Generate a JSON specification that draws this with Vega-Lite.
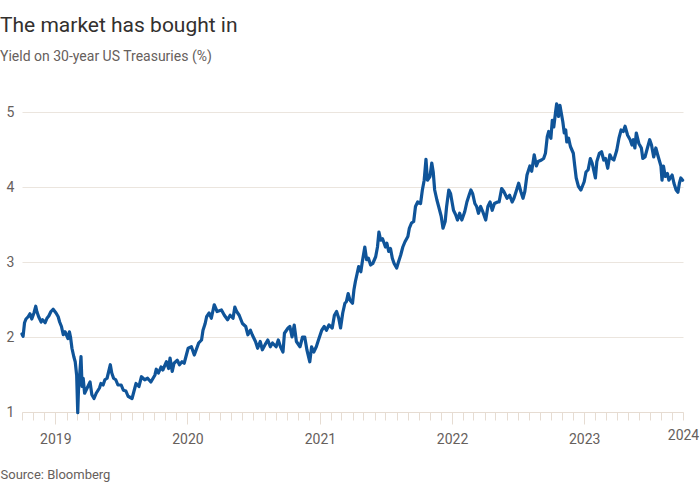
{
  "$schema": "https://vega.github.io/schema/vega-lite/v6.json",
  "width": 661,
  "height": 330,
  "autosize": {"type": "none"},
  "padding": {"left": 22, "top": 82, "right": 17, "bottom": 88},
  "background": "#ffffff",
  "config": {
    "font": "Roboto",
    "view": {"stroke": null}
  },
  "title": {
    "text": "The market has bought in",
    "subtitle": "Yield on 30-year US Treasuries (%)",
    "anchor": "start",
    "frame": "group",
    "dx": -22,
    "offset": 18,
    "font": "Roboto",
    "fontSize": 21,
    "fontWeight": "normal",
    "color": "#33302e",
    "subtitleFont": "Roboto",
    "subtitleFontSize": 14,
    "subtitleColor": "#66605c",
    "subtitlePadding": 14
  },
  "data": {
    "values": [
      {"date": "2018-10-01", "y": 2.04}, {"date": "2018-10-04", "y": 2.01}, {"date": "2018-10-08", "y": 2.19},
      {"date": "2018-10-12", "y": 2.24}, {"date": "2018-10-18", "y": 2.27}, {"date": "2018-10-23", "y": 2.31},
      {"date": "2018-10-28", "y": 2.24}, {"date": "2018-11-03", "y": 2.32}, {"date": "2018-11-08", "y": 2.41},
      {"date": "2018-11-11", "y": 2.34}, {"date": "2018-11-16", "y": 2.27}, {"date": "2018-11-23", "y": 2.20},
      {"date": "2018-11-27", "y": 2.23}, {"date": "2018-12-04", "y": 2.19}, {"date": "2018-12-09", "y": 2.25},
      {"date": "2018-12-14", "y": 2.28}, {"date": "2018-12-20", "y": 2.34}, {"date": "2018-12-26", "y": 2.37},
      {"date": "2019-01-03", "y": 2.32}, {"date": "2019-01-09", "y": 2.27}, {"date": "2019-01-13", "y": 2.20},
      {"date": "2019-01-18", "y": 2.14}, {"date": "2019-01-23", "y": 2.03}, {"date": "2019-01-28", "y": 2.07},
      {"date": "2019-02-05", "y": 1.98}, {"date": "2019-02-09", "y": 2.07}, {"date": "2019-02-12", "y": 2.00},
      {"date": "2019-02-16", "y": 1.85}, {"date": "2019-02-21", "y": 1.74}, {"date": "2019-02-25", "y": 1.67},
      {"date": "2019-03-01", "y": 1.49}, {"date": "2019-03-04", "y": 0.99}, {"date": "2019-03-06", "y": 1.29},
      {"date": "2019-03-10", "y": 1.54}, {"date": "2019-03-13", "y": 1.74}, {"date": "2019-03-16", "y": 1.34},
      {"date": "2019-03-19", "y": 1.45}, {"date": "2019-03-23", "y": 1.25}, {"date": "2019-04-01", "y": 1.34},
      {"date": "2019-04-07", "y": 1.40}, {"date": "2019-04-12", "y": 1.23}, {"date": "2019-04-18", "y": 1.18},
      {"date": "2019-04-24", "y": 1.25}, {"date": "2019-05-03", "y": 1.32}, {"date": "2019-05-07", "y": 1.38},
      {"date": "2019-05-13", "y": 1.36}, {"date": "2019-05-18", "y": 1.43}, {"date": "2019-05-24", "y": 1.45},
      {"date": "2019-06-02", "y": 1.63}, {"date": "2019-06-06", "y": 1.52}, {"date": "2019-06-11", "y": 1.45},
      {"date": "2019-06-17", "y": 1.43}, {"date": "2019-06-23", "y": 1.36}, {"date": "2019-07-02", "y": 1.36},
      {"date": "2019-07-08", "y": 1.29}, {"date": "2019-07-15", "y": 1.28}, {"date": "2019-07-21", "y": 1.21},
      {"date": "2019-08-01", "y": 1.18}, {"date": "2019-08-12", "y": 1.38}, {"date": "2019-08-20", "y": 1.34},
      {"date": "2019-08-27", "y": 1.47}, {"date": "2019-09-05", "y": 1.43}, {"date": "2019-09-13", "y": 1.45},
      {"date": "2019-09-22", "y": 1.40}, {"date": "2019-10-03", "y": 1.49}, {"date": "2019-10-07", "y": 1.57},
      {"date": "2019-10-13", "y": 1.52}, {"date": "2019-10-20", "y": 1.60}, {"date": "2019-10-25", "y": 1.56},
      {"date": "2019-11-04", "y": 1.67}, {"date": "2019-11-10", "y": 1.58}, {"date": "2019-11-14", "y": 1.72},
      {"date": "2019-11-20", "y": 1.54}, {"date": "2019-11-25", "y": 1.65}, {"date": "2019-12-04", "y": 1.69},
      {"date": "2019-12-10", "y": 1.63}, {"date": "2019-12-17", "y": 1.67}, {"date": "2019-12-23", "y": 1.65},
      {"date": "2020-01-03", "y": 1.85}, {"date": "2020-01-12", "y": 1.87}, {"date": "2020-01-20", "y": 1.76},
      {"date": "2020-02-01", "y": 1.92}, {"date": "2020-02-09", "y": 1.96}, {"date": "2020-02-13", "y": 2.09},
      {"date": "2020-02-19", "y": 2.18}, {"date": "2020-02-23", "y": 2.27}, {"date": "2020-03-01", "y": 2.32},
      {"date": "2020-03-07", "y": 2.25}, {"date": "2020-03-15", "y": 2.43}, {"date": "2020-03-23", "y": 2.34},
      {"date": "2020-04-04", "y": 2.36}, {"date": "2020-04-12", "y": 2.29}, {"date": "2020-04-21", "y": 2.23},
      {"date": "2020-04-28", "y": 2.29}, {"date": "2020-05-06", "y": 2.25}, {"date": "2020-05-11", "y": 2.40},
      {"date": "2020-05-16", "y": 2.34}, {"date": "2020-05-23", "y": 2.29}, {"date": "2020-06-01", "y": 2.18},
      {"date": "2020-06-10", "y": 2.14}, {"date": "2020-06-16", "y": 2.03}, {"date": "2020-06-23", "y": 2.09},
      {"date": "2020-06-28", "y": 2.03}, {"date": "2020-07-07", "y": 1.94}, {"date": "2020-07-13", "y": 1.85},
      {"date": "2020-07-20", "y": 1.94}, {"date": "2020-07-26", "y": 1.83}, {"date": "2020-08-05", "y": 1.92},
      {"date": "2020-08-10", "y": 1.96}, {"date": "2020-08-17", "y": 1.87}, {"date": "2020-08-23", "y": 1.92},
      {"date": "2020-09-02", "y": 1.87}, {"date": "2020-09-08", "y": 1.96}, {"date": "2020-09-14", "y": 1.87},
      {"date": "2020-09-21", "y": 1.80}, {"date": "2020-09-25", "y": 2.05}, {"date": "2020-10-05", "y": 2.12},
      {"date": "2020-10-10", "y": 2.14}, {"date": "2020-10-16", "y": 2.00}, {"date": "2020-10-22", "y": 2.16},
      {"date": "2020-10-28", "y": 1.94}, {"date": "2020-11-07", "y": 1.87}, {"date": "2020-11-14", "y": 2.00},
      {"date": "2020-11-20", "y": 2.00}, {"date": "2020-11-26", "y": 1.83}, {"date": "2020-12-04", "y": 1.67},
      {"date": "2020-12-09", "y": 1.87}, {"date": "2020-12-15", "y": 1.80}, {"date": "2020-12-22", "y": 1.87},
      {"date": "2020-12-28", "y": 1.96}, {"date": "2021-01-06", "y": 2.09}, {"date": "2021-01-13", "y": 2.14},
      {"date": "2021-01-19", "y": 2.09}, {"date": "2021-01-26", "y": 2.16}, {"date": "2021-02-04", "y": 2.12},
      {"date": "2021-02-10", "y": 2.29}, {"date": "2021-02-16", "y": 2.34}, {"date": "2021-02-22", "y": 2.25},
      {"date": "2021-02-27", "y": 2.12}, {"date": "2021-03-05", "y": 2.32}, {"date": "2021-03-11", "y": 2.45},
      {"date": "2021-03-15", "y": 2.47}, {"date": "2021-03-20", "y": 2.58}, {"date": "2021-03-25", "y": 2.49},
      {"date": "2021-04-01", "y": 2.45}, {"date": "2021-04-05", "y": 2.63}, {"date": "2021-04-09", "y": 2.74},
      {"date": "2021-04-14", "y": 2.85}, {"date": "2021-04-18", "y": 2.94}, {"date": "2021-04-24", "y": 2.87},
      {"date": "2021-04-28", "y": 3.00}, {"date": "2021-05-05", "y": 3.20}, {"date": "2021-05-10", "y": 3.03},
      {"date": "2021-05-15", "y": 3.05}, {"date": "2021-05-21", "y": 2.96}, {"date": "2021-05-27", "y": 2.98},
      {"date": "2021-06-04", "y": 3.07}, {"date": "2021-06-09", "y": 3.20}, {"date": "2021-06-13", "y": 3.40},
      {"date": "2021-06-18", "y": 3.29}, {"date": "2021-06-23", "y": 3.31}, {"date": "2021-07-01", "y": 3.20},
      {"date": "2021-07-05", "y": 3.25}, {"date": "2021-07-10", "y": 3.14}, {"date": "2021-07-15", "y": 3.18},
      {"date": "2021-07-20", "y": 3.05}, {"date": "2021-07-25", "y": 2.98}, {"date": "2021-08-01", "y": 2.92},
      {"date": "2021-08-06", "y": 3.00}, {"date": "2021-08-12", "y": 3.09}, {"date": "2021-08-18", "y": 3.20},
      {"date": "2021-08-24", "y": 3.27}, {"date": "2021-09-01", "y": 3.34}, {"date": "2021-09-05", "y": 3.45},
      {"date": "2021-09-11", "y": 3.52}, {"date": "2021-09-17", "y": 3.54}, {"date": "2021-09-22", "y": 3.74},
      {"date": "2021-09-28", "y": 3.80}, {"date": "2021-10-06", "y": 3.78}, {"date": "2021-10-11", "y": 3.96},
      {"date": "2021-10-16", "y": 4.09}, {"date": "2021-10-21", "y": 4.37}, {"date": "2021-10-25", "y": 4.09},
      {"date": "2021-11-01", "y": 4.14}, {"date": "2021-11-06", "y": 4.32}, {"date": "2021-11-10", "y": 4.20},
      {"date": "2021-11-14", "y": 3.96}, {"date": "2021-11-20", "y": 3.83}, {"date": "2021-11-25", "y": 3.74},
      {"date": "2021-12-02", "y": 3.61}, {"date": "2021-12-07", "y": 3.45}, {"date": "2021-12-13", "y": 3.54},
      {"date": "2021-12-17", "y": 3.74}, {"date": "2021-12-23", "y": 3.96}, {"date": "2021-12-28", "y": 3.91},
      {"date": "2022-01-05", "y": 3.69}, {"date": "2022-01-11", "y": 3.63}, {"date": "2022-01-16", "y": 3.56},
      {"date": "2022-01-22", "y": 3.65}, {"date": "2022-01-28", "y": 3.56}, {"date": "2022-02-05", "y": 3.67},
      {"date": "2022-02-11", "y": 3.80}, {"date": "2022-02-17", "y": 3.89}, {"date": "2022-02-22", "y": 3.96},
      {"date": "2022-02-27", "y": 3.91}, {"date": "2022-03-05", "y": 3.78}, {"date": "2022-03-10", "y": 3.74},
      {"date": "2022-03-15", "y": 3.65}, {"date": "2022-03-21", "y": 3.74}, {"date": "2022-03-27", "y": 3.67},
      {"date": "2022-04-04", "y": 3.56}, {"date": "2022-04-10", "y": 3.74}, {"date": "2022-04-16", "y": 3.80},
      {"date": "2022-04-22", "y": 3.69}, {"date": "2022-04-28", "y": 3.78}, {"date": "2022-05-07", "y": 3.80},
      {"date": "2022-05-11", "y": 3.80}, {"date": "2022-05-18", "y": 3.98}, {"date": "2022-05-24", "y": 3.94},
      {"date": "2022-06-02", "y": 3.85}, {"date": "2022-06-09", "y": 3.89}, {"date": "2022-06-16", "y": 3.80},
      {"date": "2022-06-21", "y": 3.85}, {"date": "2022-06-27", "y": 3.94}, {"date": "2022-07-04", "y": 4.05},
      {"date": "2022-07-10", "y": 3.94}, {"date": "2022-07-16", "y": 3.85}, {"date": "2022-07-21", "y": 3.94},
      {"date": "2022-07-27", "y": 4.16}, {"date": "2022-08-04", "y": 4.28}, {"date": "2022-08-09", "y": 4.21},
      {"date": "2022-08-16", "y": 4.43}, {"date": "2022-08-22", "y": 4.28}, {"date": "2022-08-27", "y": 4.34},
      {"date": "2022-09-05", "y": 4.36}, {"date": "2022-09-11", "y": 4.38}, {"date": "2022-09-16", "y": 4.45},
      {"date": "2022-09-21", "y": 4.67}, {"date": "2022-09-25", "y": 4.74}, {"date": "2022-10-01", "y": 4.65},
      {"date": "2022-10-05", "y": 4.89}, {"date": "2022-10-09", "y": 4.80}, {"date": "2022-10-14", "y": 5.00},
      {"date": "2022-10-17", "y": 5.11}, {"date": "2022-10-22", "y": 4.94}, {"date": "2022-10-26", "y": 5.09},
      {"date": "2022-11-03", "y": 4.87}, {"date": "2022-11-07", "y": 4.72}, {"date": "2022-11-11", "y": 4.76},
      {"date": "2022-11-14", "y": 4.60}, {"date": "2022-11-19", "y": 4.65}, {"date": "2022-11-24", "y": 4.54},
      {"date": "2022-12-02", "y": 4.45}, {"date": "2022-12-06", "y": 4.28}, {"date": "2022-12-10", "y": 4.12},
      {"date": "2022-12-16", "y": 4.01}, {"date": "2022-12-23", "y": 3.96}, {"date": "2023-01-01", "y": 4.07},
      {"date": "2023-01-06", "y": 4.20}, {"date": "2023-01-12", "y": 4.23}, {"date": "2023-01-18", "y": 4.38},
      {"date": "2023-01-23", "y": 4.32}, {"date": "2023-02-01", "y": 4.12}, {"date": "2023-02-05", "y": 4.34},
      {"date": "2023-02-12", "y": 4.45}, {"date": "2023-02-18", "y": 4.47}, {"date": "2023-02-24", "y": 4.36},
      {"date": "2023-03-01", "y": 4.38}, {"date": "2023-03-07", "y": 4.25}, {"date": "2023-03-13", "y": 4.43},
      {"date": "2023-03-18", "y": 4.38}, {"date": "2023-03-24", "y": 4.36}, {"date": "2023-04-01", "y": 4.49},
      {"date": "2023-04-07", "y": 4.65}, {"date": "2023-04-13", "y": 4.76}, {"date": "2023-04-19", "y": 4.74},
      {"date": "2023-04-24", "y": 4.81}, {"date": "2023-05-01", "y": 4.69}, {"date": "2023-05-08", "y": 4.63},
      {"date": "2023-05-13", "y": 4.56}, {"date": "2023-05-17", "y": 4.63}, {"date": "2023-05-21", "y": 4.52},
      {"date": "2023-05-25", "y": 4.72}, {"date": "2023-06-01", "y": 4.58}, {"date": "2023-06-08", "y": 4.52},
      {"date": "2023-06-12", "y": 4.38}, {"date": "2023-06-18", "y": 4.40}, {"date": "2023-06-23", "y": 4.49},
      {"date": "2023-07-01", "y": 4.63}, {"date": "2023-07-06", "y": 4.56}, {"date": "2023-07-12", "y": 4.40},
      {"date": "2023-07-18", "y": 4.52}, {"date": "2023-07-23", "y": 4.43}, {"date": "2023-08-01", "y": 4.28},
      {"date": "2023-08-04", "y": 4.09}, {"date": "2023-08-08", "y": 4.28}, {"date": "2023-08-13", "y": 4.14},
      {"date": "2023-08-19", "y": 4.18}, {"date": "2023-08-23", "y": 4.09}, {"date": "2023-09-01", "y": 4.16},
      {"date": "2023-09-06", "y": 4.05}, {"date": "2023-09-12", "y": 3.96}, {"date": "2023-09-17", "y": 3.93},
      {"date": "2023-09-21", "y": 4.05}, {"date": "2023-09-25", "y": 4.12}, {"date": "2023-09-30", "y": 4.09}
    ]
  },
  "mark": {"type": "line", "color": "#0f5499", "strokeWidth": 3.2, "strokeJoin": "round", "strokeCap": "round"},
  "encoding": {
    "x": {
      "field": "date",
      "type": "temporal",
      "scale": {
        "type": "utc",
        "domain": [
          {"year": 2018, "month": 10, "date": 1, "utc": true},
          {"year": 2023, "month": 10, "date": 1, "utc": true}
        ],
        "nice": false
      },
      "axis": {
        "title": "Source: Bloomberg",
        "titleFont": "Roboto",
        "titleFontSize": 13,
        "titleFontWeight": "normal",
        "titleColor": "#66605c",
        "titleAnchor": "start",
        "titleAlign": "left",
        "titleBaseline": "alphabetic",
        "titleX": -22,
        "titleY": 66,
        "grid": false,
        "domainColor": "#e6dcd2",
        "domainWidth": 1,
        "tickColor": "#e6dcd2",
        "tickWidth": 1,
        "tickSize": {"condition": {"test": "utcmonth(datum.value) === 0", "value": 12}, "value": 8},
        "tickCount": {"interval": "month", "step": 1},
        "labelExpr": "utcmonth(datum.value) === 0 ? utcFormat(datum.value, '%Y') : ((utcyear(datum.value) === 2023 && utcmonth(datum.value) === 9) ? '2024' : '')",
        "labelOverlap": false,
        "labelFlush": false,
        "labelFont": "Roboto",
        "labelFontSize": 14,
        "labelColor": "#66605c",
        "labelPadding": 8,
        "labelBaseline": "top"
      }
    },
    "y": {
      "field": "y",
      "type": "quantitative",
      "scale": {"domain": [1, 5.4], "nice": false, "zero": false},
      "axis": {
        "title": null,
        "values": [1, 2, 3, 4, 5],
        "domain": false,
        "ticks": false,
        "grid": true,
        "gridColor": "#ebe5de",
        "gridWidth": 1,
        "labelAlign": "left",
        "labelBaseline": "middle",
        "labelPadding": 16,
        "labelFont": "Roboto",
        "labelFontSize": 14,
        "labelColor": "#66605c"
      }
    }
  }
}
